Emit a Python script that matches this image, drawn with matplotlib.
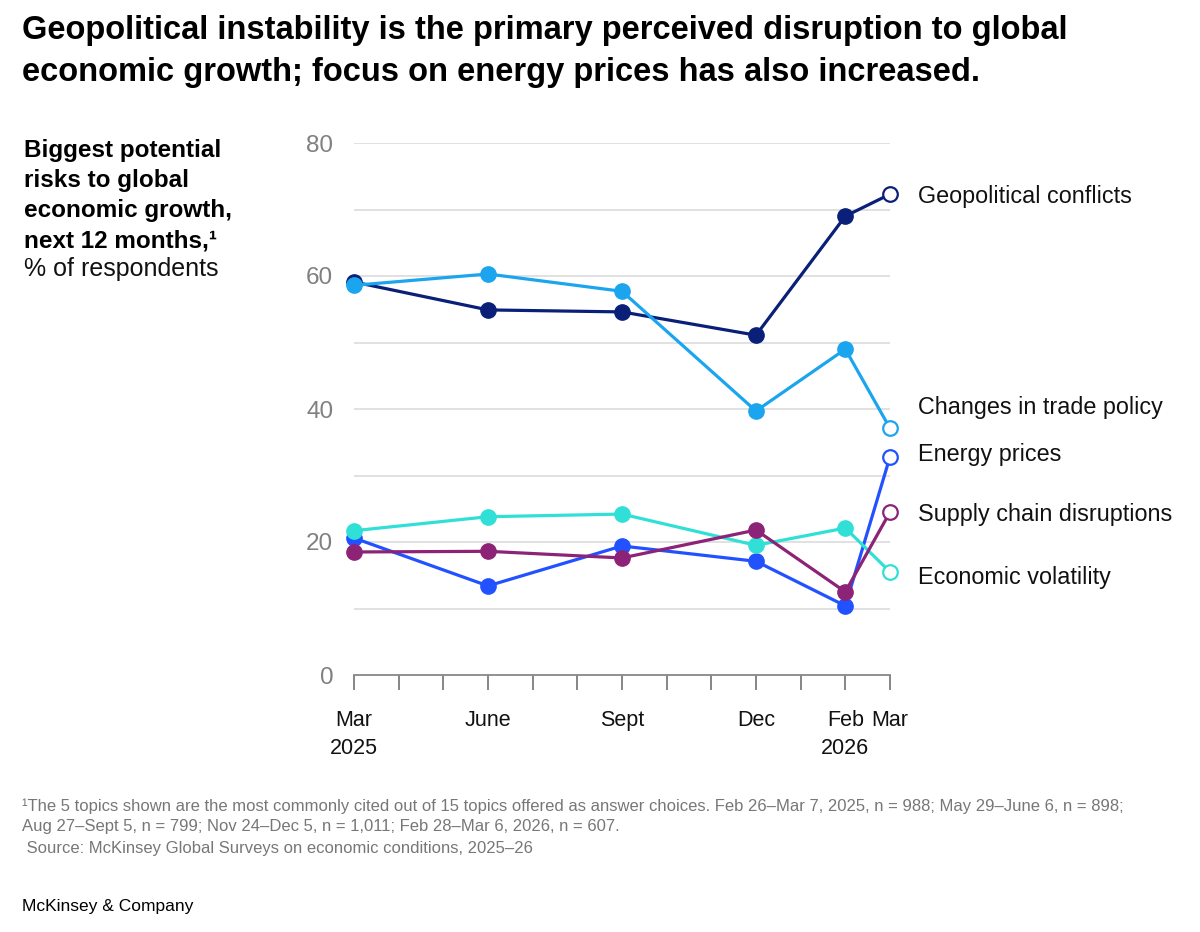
import numpy as np
import matplotlib
matplotlib.use("Agg")
import matplotlib.pyplot as plt

plt.rcParams['font.family'] = ['Liberation Sans', 'DejaVu Sans']

# months since Mar 2025 for each survey wave
months = [0, 3, 6, 9, 11, 12]
tick_labels = ["Mar\n2025", "", "", "June", "", "", "Sept", "", "", "Dec", "", "Feb\n2026", "Mar"]

series_names = ["Geopolitical conflicts", "Changes in trade policy", "Energy prices",
                "Supply chain disruptions", "Economic volatility"]
geo = [59.1, 54.9, 54.6, 51.1, 69.0, 72.3]
trade = [58.6, 60.3, 57.7, 39.7, 49.0, 37.1]
energy = [20.6, 13.4, 19.4, 17.1, 10.4, 32.8]
supply = [18.5, 18.6, 17.6, 21.8, 12.5, 24.5]
volatility = [21.7, 23.8, 24.2, 19.5, 22.1, 15.5]

colors = ["#0a1f78", "#1ba5ee", "#2251ff", "#8c2377", "#30e0d6"]
label_y = [72.0, 40.3, 33.2, 24.2, 14.6]

fig = plt.figure(figsize=(12, 9.32), dpi=100)
ax = fig.add_axes([354 / 1200, 1 - 675 / 932, (890 - 354) / 1200, (675 - 143) / 932])

# gridlines
for g in range(10, 81, 10):
    ax.axhline(g, color="#d9d9d9", lw=1.1, zorder=0)

all_series = [geo, trade, energy, supply, volatility]
zorders = [3, 4, 3, 5, 4]
for vals, c, name, ly, z in zip(all_series, colors, series_names, label_y, zorders):
    ax.plot(months, vals, color=c, lw=2.3, zorder=z, clip_on=False)
    ax.plot(months[:-1], vals[:-1], 'o', color=c, ms=11, zorder=z, clip_on=False)
    ax.plot(months[-1:], vals[-1:], 'o', mfc="white", mec=c, mew=1.6, ms=10.5,
            zorder=z + 5, clip_on=False)
    ax.text(12.63, ly, name, fontsize=16.8, color="#111111", va="center", ha="left")

ax.set_xlim(0, 12)
ax.set_ylim(0, 80)
ax.set_yticks([0, 20, 40, 60, 80])
ax.set_yticklabels(["0", "20", "40", "60", "80"], fontsize=17.5, color="#808080")
ax.tick_params(axis="y", length=0, pad=15)
ax.set_xticks(range(13))
ax.set_xticklabels(tick_labels, fontsize=15.5, color="#111111", linespacing=1.45)
ax.tick_params(axis="x", length=11, width=1.1, color="#666666", pad=14)
for s in ["top", "right", "left"]:
    ax.spines[s].set_visible(False)
ax.spines["bottom"].set_color("#888888")
ax.spines["bottom"].set_linewidth(1.3)

# title
fig.text(22 / 1200, 1 - 15 / 932,
         "Geopolitical instability is the primary perceived disruption to global\n"
         "economic growth; focus on energy prices has also increased.",
         fontsize=23.5, fontweight="bold", color="#000000", va="top", ha="left",
         linespacing=1.45)

# left side subtitle
sub_lines = ["Biggest potential", "risks to global", "economic growth,", "next 12 months,\u00b9"]
for i, t in enumerate(sub_lines):
    fig.text(24 / 1200, 1 - (151 + 30 * i) / 932, t, fontsize=17.5, fontweight="bold",
             color="#000000", va="center", ha="left")
fig.text(24 / 1200, 1 - 269 / 932, "% of respondents", fontsize=18, color="#111111",
         va="center", ha="left")

# footnotes
foot = ["\u00b9The 5 topics shown are the most commonly cited out of 15 topics offered as answer choices. "
        "Feb 26\u2013Mar 7, 2025, n = 988; May 29\u2013June 6, n = 898;",
        "Aug 27\u2013Sept 5, n = 799; Nov 24\u2013Dec 5, n = 1,011; Feb 28\u2013Mar 6, 2026, n = 607.",
        " Source: McKinsey Global Surveys on economic conditions, 2025\u201326"]
for i, t in enumerate(foot):
    fig.text(22 / 1200, 1 - (806 + 21 * i) / 932, t, fontsize=12.0, color="#777777",
             va="center", ha="left")

fig.text(22 / 1200, 1 - 906 / 932, "McKinsey & Company", fontsize=12.5, color="#000000",
         va="center", ha="left")

fig.savefig("out.png", dpi=100, facecolor="white")
